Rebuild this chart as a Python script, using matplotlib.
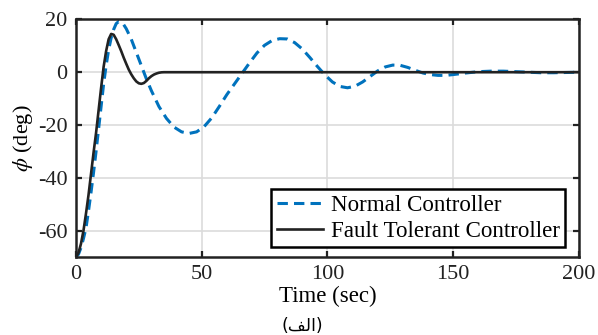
import matplotlib
matplotlib.use("Agg")
import matplotlib.pyplot as plt

# values
t_normal = [0, 1, 2, 3, 4, 5, 6, 7, 8, 9, 10, 11, 12, 13, 14, 15, 16, 17, 18, 19, 20,
            22, 24, 26, 28, 30, 33, 36, 39, 42, 45, 48, 51, 54, 57, 60, 63, 66, 69, 72,
            75, 78, 81, 84, 87, 90, 93, 96, 99, 102, 105, 108, 111, 114, 117, 120, 123,
            126, 129, 132, 135, 138, 141, 144, 147, 150, 155, 160, 165, 170, 175, 180,
            185, 190, 195, 200]
phi_normal = [-70, -69, -66.5, -63, -59, -52.5, -45.5, -38, -30, -21.5, -13, -4.5, 2.5, 8.5, 13,
              16.2, 18.4, 19.2, 19, 18, 16.5, 12.5, 7.5, 2.5, -2.5, -7, -13, -17.5, -20.8,
              -22.6, -23.2, -22.6, -20.6, -17.3, -13, -8.5, -4.5, -0.5, 3.5, 7.3, 10.2,
              12, 12.7, 12.6, 11.2, 8.8, 5.6, 2.2, -1, -3.7, -5.4, -5.9, -5.3, -3.7,
              -1.6, 0.5, 2, 2.7, 2.6, 1.8, 0.7, -0.3, -0.9, -1.2, -1.2, -0.9, -0.3, 0.2,
              0.4, 0.4, 0.2, 0, -0.2, -0.2, -0.1, 0]

t_ftc = [0, 1, 2, 3, 4, 5, 6, 7, 8, 9, 10, 11, 12, 13, 14, 15, 16, 17, 18, 19, 20, 21,
         22, 23, 24, 25, 26, 27, 28, 29, 30, 31, 32, 33, 34, 35, 200]
phi_ftc = [-70, -68.5, -65, -60, -53.5, -46.5, -38.5, -30.5, -23, -14.5, -6, 2, 8, 12.5,
           14.5, 14.2, 12.5, 10.3, 8, 5.5, 3.2, 1, -0.8, -2.3, -3.5, -4.2, -4.4, -4.1,
           -3.3, -2.3, -1.5, -0.9, -0.5, -0.2, -0.05, 0, 0]

x_ticks = [0, 50, 100, 150, 200]
y_ticks = [-60, -40, -20, 0, 20]
labels = ["Normal Controller", "Fault Tolerant Controller"]

plt.rcParams["font.family"] = ["Liberation Serif", "DejaVu Sans"]
plt.rcParams["mathtext.fontset"] = "stix"
plt.rcParams["axes.unicode_minus"] = False

fig = plt.figure(figsize=(5.98, 3.35), dpi=100)
ax = fig.add_axes([0.127, 0.233, 0.841, 0.709])

ax.plot(t_normal, phi_normal, color="#0072BD", lw=2.2, dashes=(3.4, 2.0), label=labels[0])
ax.plot(t_ftc, phi_ftc, color="#222222", lw=1.9, label=labels[1])

ax.set_xlim(0, 200)
ax.set_ylim(-70, 20)
ax.set_xticks(x_ticks)
ax.set_yticks(y_ticks)
ax.grid(True, color="#dcdcdc", lw=1.2)
ax.set_axisbelow(True)
ax.tick_params(direction="in", length=4, width=1.6, top=True, right=True,
               labelsize=16, pad=6, colors="#222222")
for s in ax.spines.values():
    s.set_linewidth(1.8)
    s.set_color("#222222")

ax.set_xlabel("Time (sec)", fontsize=16.5, labelpad=1)
ax.set_ylabel(r"$\phi$ (deg)", fontsize=16, labelpad=2)

leg = ax.legend(loc="lower right", bbox_to_anchor=(0.972, 0.042), borderaxespad=0,
                fontsize=16.6, handlelength=2.0, handletextpad=0.35, labelspacing=0.22,
                borderpad=0.22, fancybox=False, framealpha=1, edgecolor="black")
leg.get_frame().set_linewidth(1.8)

# caption in Arabic ("الف"), written in visual order with joined forms
fig.text(0.506, 0.027, "(\uFED2\uFEDF\uFE8D)", ha="center", va="center", fontsize=12.5,
         family=["DejaVu Sans"])

fig.savefig("out.png", dpi=100)
